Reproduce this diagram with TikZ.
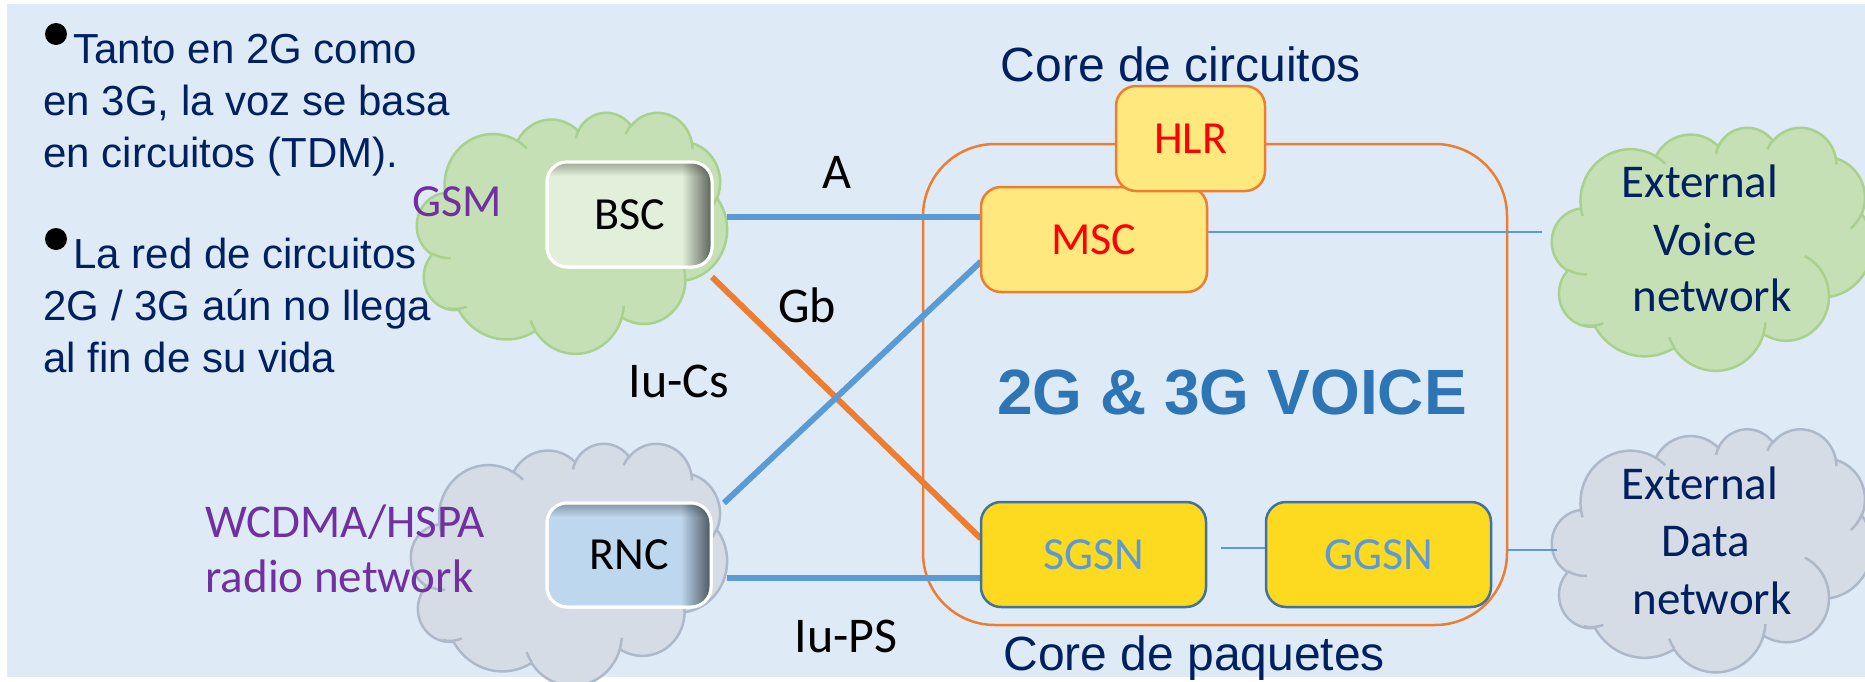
\documentclass[tikz,border=0pt]{standalone}
\usepackage{fontspec}
\setmainfont{Liberation Sans}
\newfontfamily\calfont{Carlito}
\usetikzlibrary{fadings}

\definecolor{bgblue}{HTML}{DEEBF7}
\definecolor{navy}{HTML}{002060}
\definecolor{violet}{HTML}{7030A0}
\definecolor{linkblue}{HTML}{5B9BD5}
\definecolor{linkorange}{HTML}{ED7D31}
\definecolor{titleblue}{HTML}{2E75B6}
\definecolor{paleyellow}{HTML}{FFE97F}
\definecolor{gold}{HTML}{FDDA1F}
\definecolor{steel}{HTML}{41719C}
\definecolor{bscfill}{HTML}{E2EFDA}
\definecolor{rncfill}{HTML}{BDD7EE}
\definecolor{greenfill}{HTML}{C5E0B4}
\definecolor{greenedge}{HTML}{A9D18E}
\definecolor{greyfill}{HTML}{D6DCE5}
\definecolor{greyedge}{HTML}{ADB9CA}

\tikzfading[name=shaderight, left color=transparent!100, right color=transparent!0]
\tikzfading[name=shadetop, top color=transparent!0, bottom color=transparent!100]

\pgfdeclarelayer{back}
\pgfdeclarelayer{links}
\pgfsetlayers{back,links,main}

% elliptic arc given by radii and visual start/sweep angles
\tikzset{
  cloudarc/.style n args={4}{insert path={
    arc[start angle={atan2((#1)*sin(#3),(#2)*cos(#3))},
        delta angle={mod(atan2((#1)*sin((#3)+(#4)),(#2)*cos((#3)+(#4)))-atan2((#1)*sin(#3),(#2)*cos(#3))+720,360)},
        x radius=#1, y radius=#2]}},
}

% cloud outline in a 432 x 432 frame: name, centre x, centre y, width, height, style
\newcommand\netcloud[6]{%
  \pgfmathsetmacro\cloudsx{#4/864}%
  \pgfmathsetmacro\cloudsy{#5/864}%
  \begin{scope}[shift={(#2-#4/2,#3-#5/2)},x=\cloudsx pt,y=-\cloudsy pt]
    \path[#6] (39.00,143.70)
      [cloudarc={67.53}{91.90}{-190.4875}{123.7805}]
      [cloudarc={53.33}{72.67}{-144.1024}{89.9452}]
      [cloudarc={43.65}{59.45}{-145.8079}{99.7230}]
      [cloudarc={48.57}{65.95}{-130.9861}{117.2417}]
      [cloudarc={53.33}{72.73}{-78.7089}{109.0269}]
      [cloudarc={67.75}{92.20}{-46.2673}{130.2690}]
      [cloudarc={57.85}{78.67}{0.6250}{114.0333}]
      [cloudarc={67.52}{92.15}{22.4516}{115.1726}]
      [cloudarc={77.20}{105.43}{66.2426}{75.7110}]
      [cloudarc={43.60}{59.18}{-274.9421}{146.7356}]
      [cloudarc={43.45}{59.45}{-246.8285}{152.5189}]
      -- cycle;
    \path[#6,fill=none]
      (46.93,261.77) [cloudarc={43.45}{59.45}{86.7420}{26.4295}]
      (69.28,348.99) [cloudarc={43.60}{59.18}{73.6105}{26.5264}]
      (164.78,390.90) [cloudarc={67.52}{92.15}{137.6242}{14.0811}]
      (288.27,347.51) [cloudarc={67.52}{92.15}{6.4533}{15.9984}]
      (341.29,229.54) [cloudarc={57.85}{78.67}{-70.2924}{70.9174}]
      (417.98,153.54) [cloudarc={53.33}{72.73}{30.3180}{27.7515}]
      (383.24,54.26) [cloudarc={48.57}{65.95}{-13.7443}{14.8589}]
      (290.78,39.52) [cloudarc={48.57}{65.95}{-149.1815}{18.1954}]
      (221.41,47.20) [cloudarc={43.65}{59.45}{-163.4943}{17.6864}]
      (140.00,51.92) [cloudarc={67.53}{91.90}{-66.7070}{12.3194}]
      (41.27,157.89) [cloudarc={67.53}{91.90}{157.6544}{11.8582}];
    \coordinate (#1-w) at (0,216);
  \end{scope}}

\begin{document}
\begin{tikzpicture}[x=0.5pt,y=-0.5pt,
  box/.style={rounded corners=10pt, inner sep=0pt, outer sep=0pt, line width=1.25pt,
    font=\calfont\fontsize{23}{27}\selectfont},
  circuitbox/.style={box, draw=linkorange, fill=paleyellow, text=red},
  packetbox/.style={box, draw=steel, fill=gold, text=linkblue},
  radiobox/.style={box, draw=white, line width=1.5pt, text=black},
  bullettext/.style={anchor=base west, inner sep=0pt, text=navy, font=\fontsize{21}{26}\selectfont},
  iface/.style={inner sep=0pt, text=black, font=\calfont\fontsize{25}{30}\selectfont},
  extlabel/.style={anchor=base, inner sep=0pt, text=navy, font=\calfont\fontsize{23.5}{28}\selectfont},
  radiolabel/.style={anchor=base west, inner sep=0pt, text=violet, font=\calfont\fontsize{23.5}{28}\selectfont},
  corelabel/.style={inner sep=0pt, text=navy, font=\fontsize{24}{29}\selectfont},
  thicklink/.style={line width=3pt},
  thinlink/.style={draw=linkblue, line width=0.75pt},
  cloudgreen/.style={fill=greenfill, draw=greenedge, line width=1.25pt},
  cloudgrey/.style={fill=greyfill, draw=greyedge, line width=1.25pt},
]
\useasboundingbox (0,0) rectangle (1865,681);

\begin{pgfonlayer}{back}
  \fill[bgblue] (7,4) rectangle (1865,677);
  \node[draw=linkorange, line width=1.25pt, rounded corners=36pt, minimum width=292pt,
        minimum height=240.5pt, inner sep=0pt, outer sep=0pt] (core) at (1215,384.5) {};
  \netcloud{gsm}{572}{232.5}{310}{241}{cloudgreen}
  \netcloud{utran}{569}{564}{316}{242}{cloudgrey}
  \netcloud{voicenet}{1712}{248.5}{320}{243}{cloudgreen}
  \netcloud{datanet}{1712}{550}{320}{243}{cloudgrey}
\end{pgfonlayer}

% network elements
\node[circuitbox, minimum width=113pt, minimum height=52.5pt] (msc) at (1094,239.5) {MSC};
\node[circuitbox, minimum width=74.5pt, minimum height=52.5pt] (hlr) at (1190.5,138.5) {HLR};
\node[packetbox, minimum width=112.5pt, minimum height=52.5pt] (sgsn) at (1093.5,554.5) {SGSN};
\node[packetbox, minimum width=112.5pt, minimum height=52.5pt] (ggsn) at (1378.5,554.5) {GGSN};
\node[radiobox, fill=bscfill, minimum width=82.5pt, minimum height=52.5pt] (bsc) at (629.5,214.5) {BSC};
\node[radiobox, fill=rncfill, minimum width=82pt, minimum height=52pt] (rnc) at (629,555) {RNC};

% inner shadow of the radio controllers
\foreach \ctl in {bsc,rnc}{
  \begin{scope}
    \clip[rounded corners=10pt] (\ctl.south west) rectangle (\ctl.north east);
    \fill[black, opacity=0.6, path fading=shaderight] ([xshift=-15pt]\ctl.south east) rectangle (\ctl.north east);
    \fill[black, opacity=0.3, path fading=shadetop] ([yshift=-7pt]\ctl.north west) rectangle (\ctl.north east);
  \end{scope}
  \draw[white, line width=1.5pt, rounded corners=10pt] (\ctl.south west) rectangle (\ctl.north east);
}

% interfaces
\begin{pgfonlayer}{links}
  \draw[thicklink, linkblue] ([xshift=7.5pt,yshift=-1.25pt]bsc.east) -- ([yshift=-1.25pt]bsc.east -| msc.west);
  \draw[thicklink, linkorange] ([yshift=-5pt]bsc.south east) -- (sgsn.172);
  \draw[thicklink, linkblue] ([xshift=6.5pt]rnc.north east) -- (msc.191);
  \draw[thicklink, linkblue] ([xshift=8pt,yshift=-11.5pt]rnc.east) -- ([yshift=-11.5pt]rnc.east -| sgsn.west);
  \draw[thinlink, shorten >=5pt] ([yshift=3.75pt]msc.east) -- ([yshift=3.75pt]msc.east -| voicenet-w);
  \draw[thinlink, shorten <=7.5pt] ([yshift=3.25pt]sgsn.east) -- ([yshift=3.25pt]ggsn.west);
  \draw[thinlink, shorten >=-2.5pt] ([yshift=2.25pt]ggsn.east -| core.east) -- ([yshift=2.25pt]ggsn.east -| datanet-w);
\end{pgfonlayer}

% bullet list
\fill[black] (56,34) circle[radius=5.5pt];
\fill[black] (56,239) circle[radius=5.5pt];
\node[bullettext] (p1a) at (73,63) {Tanto en 2G como};
\node[bullettext] (p1b) at (43,115) {en 3G, la voz se basa};
\node[bullettext] (p1c) at (43,167) {en circuitos (TDM).};
\node[bullettext] (p2a) at (73,268) {La red de circuitos};
\node[bullettext] (p2b) at (43,320) {2G / 3G aún no llega};
\node[bullettext] (p2c) at (43,372) {al fin de su vida};

% titles
\node[corelabel, anchor=base] (cstitle) at (1181,81) {Core de circuitos};
\node[corelabel, anchor=base west] (pstitle) at (1003,670) {Core de paquetes};
\node[inner sep=0pt, anchor=base, text=titleblue, font=\bfseries\fontsize{32}{38}\selectfont]
  (voice) at (1232,414) {2G \& 3G VOICE};

% interface names
\node[iface, anchor=base] (labA) at (837,188) {A};
\node[iface, anchor=base] (labGb) at (807,322) {Gb};
\node[iface, anchor=base west] (labIuCs) at (628,397) {Iu-Cs};
\node[iface, anchor=base west] (labIuPS) at (794,652) {Iu-PS};

% radio networks
\node[radiolabel, font=\calfont\fontsize{23}{28}\selectfont] (labgsm) at (412,216) {GSM};
\node[radiolabel] (labw1) at (205,537) {WCDMA/HSPA};
\node[radiolabel] (labw2) at (205,592) {radio network};

% external networks
\node[extlabel] (ev1) at (1700,197) {External};
\node[extlabel] (ev2) at (1705,255) {Voice};
\node[extlabel] (ev3) at (1712,311) {network};
\node[extlabel] (ed1) at (1700,499) {External};
\node[extlabel] (ed2) at (1706,556) {Data};
\node[extlabel] (ed3) at (1712,614) {network};
\end{tikzpicture}
\end{document}
